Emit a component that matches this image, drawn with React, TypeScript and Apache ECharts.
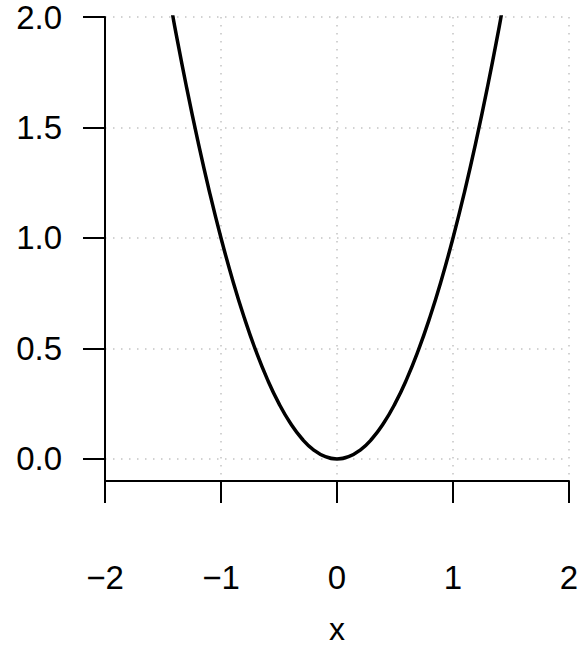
import React, { useEffect, useRef } from "react";
import * as echarts from "echarts";

const xValues = [-1.42, -1.4, -1.3, -1.2, -1.1, -1.0, -0.9, -0.8, -0.7, -0.6, -0.5, -0.4, -0.3, -0.2, -0.1, 0, 0.1, 0.2, 0.3, 0.4, 0.5, 0.6, 0.7, 0.8, 0.9, 1.0, 1.1, 1.2, 1.3, 1.4, 1.42];
const yValues = [2.02, 1.96, 1.69, 1.44, 1.21, 1.0, 0.81, 0.64, 0.49, 0.36, 0.25, 0.16, 0.09, 0.04, 0.01, 0, 0.01, 0.04, 0.09, 0.16, 0.25, 0.36, 0.49, 0.64, 0.81, 1.0, 1.21, 1.44, 1.69, 1.96, 2.02];
const xTicks = [-2, -1, 0, 1, 2];
const yTicks = [0, 0.5, 1.0, 1.5, 2.0];
const xName = "x";

export default function App() {
  const ref = useRef<HTMLDivElement>(null);
  useEffect(() => {
    const chart = echarts.init(ref.current!, null, { renderer: "svg" });
    const font = "Liberation Sans, Arial, sans-serif";
    const grid = { color: "#c4c4c4", type: [1.5, 6.5], width: 1.5 };
    chart.setOption({
      animation: false,
      grid: { left: 105, right: 13, top: 17, bottom: 168, containLabel: false, outerBoundsMode: "none" },
      xAxis: {
        type: "value",
        min: -2,
        max: 2,
        interval: 1,
        name: xName,
        nameLocation: "middle",
        nameGap: 136,
        nameTextStyle: { color: "#000", fontSize: 32, lineHeight: 24, fontFamily: font },
        axisLine: { show: true, onZero: false, lineStyle: { color: "#000", width: 2 } },
        axisTick: { show: true, length: 22, customValues: xTicks, lineStyle: { color: "#000", width: 2 } },
        axisLabel: {
          color: "#000",
          fontSize: 33,
          fontFamily: font,
          margin: 80,
          customValues: xTicks,
          formatter: (v: number) => (v < 0 ? "\u2212" + Math.abs(v) : String(v)),
        },
        splitLine: { show: true, lineStyle: grid },
      },
      yAxis: {
        type: "value",
        min: -0.1,
        max: 2,
        axisLine: { show: true, onZero: false, lineStyle: { color: "#000", width: 2 } },
        axisTick: { show: true, length: 22, customValues: yTicks, lineStyle: { color: "#000", width: 2 } },
        axisLabel: {
          color: "#000",
          fontSize: 33,
          fontFamily: font,
          margin: 43,
          customValues: yTicks,
          formatter: (v: number) => v.toFixed(1),
        },
        splitLine: { show: true, lineStyle: grid },
      },
      series: [
        {
          type: "line",
          data: xValues.map((x, i) => [x, yValues[i]]),
          smooth: true,
          showSymbol: false,
          clip: true,
          lineStyle: { color: "#000", width: 3.5 },
        },
      ],
    });
    return () => chart.dispose();
  }, []);
  return <div ref={ref} style={{ width: 582, height: 649, position: "absolute", left: 0, top: 0 }} />;
}
